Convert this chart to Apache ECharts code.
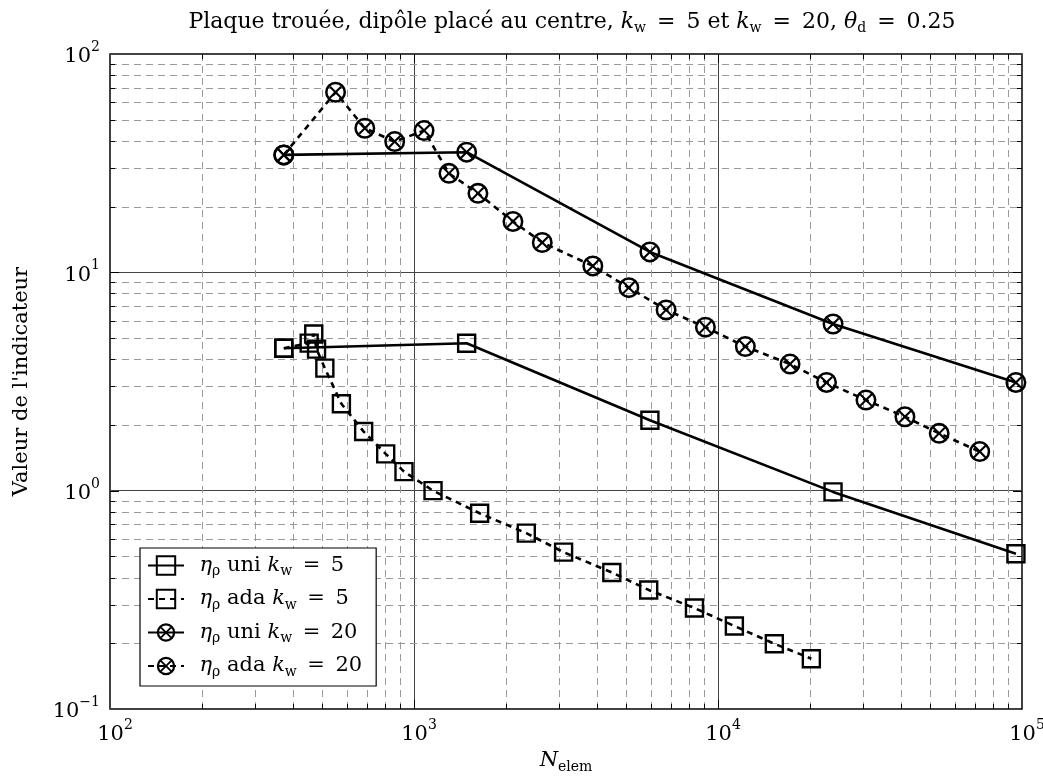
<!DOCTYPE html>
<html>
<head>
<meta charset="utf-8">
<script src="https://cdn.jsdelivr.net/npm/echarts@6/dist/echarts.min.js"></script>
<style>html,body{margin:0;padding:0;background:#fff;}#c{width:1043px;height:780px;}</style>
</head>
<body>
<div id="c"></div>
<script>
// ---- data ----
const uniX   = [373, 1490, 5970, 23900, 95500];
const uni5   = [4.49, 4.73, 2.10, 0.987, 0.514];
const uni20  = [34.5, 35.5, 12.4, 5.80, 3.13];
const ada5X  = [373, 452, 468, 478, 509, 577, 683, 807, 927, 1155, 1644, 2341, 3105, 4474, 5916, 8367, 11320, 15320, 20280];
const ada5   = [4.49, 4.74, 5.22, 4.45, 3.64, 2.50, 1.865, 1.474, 1.223, 1.0, 0.788, 0.639, 0.523, 0.422, 0.351, 0.290, 0.240, 0.199, 0.170];
const ada20X = [373, 552, 689, 864, 1079, 1303, 1623, 2116, 2642, 3875, 5089, 6750, 9090, 12300, 17260, 22750, 30670, 41200, 53400, 72600];
const ada20  = [34.5, 66.8, 45.7, 39.7, 44.6, 28.4, 23.0, 17.1, 13.7, 10.7, 8.51, 6.73, 5.61, 4.57, 3.80, 3.13, 2.60, 2.18, 1.83, 1.51];
const seriesNames = ['uni5', 'ada5', 'uni20', 'ada20'];
const EQ = '\u2002=\u2002';
const legendLabels = {
  uni5:  '\u2002{i|η}{s|ρ} uni {i|k}{s|w}' + EQ + '5',
  ada5:  '\u2002{i|η}{s|ρ} ada {i|k}{s|w}' + EQ + '5',
  uni20: '\u2002{i|η}{s|ρ} uni {i|k}{s|w}' + EQ + '20',
  ada20: '\u2002{i|η}{s|ρ} ada {i|k}{s|w}' + EQ + '20'
};
const titleText = 'Plaque trouée, dipôle placé au centre, {i|k}{s|w}' + EQ + '5 et {i|k}{s|w}' + EQ + '20, {i|θ}{s|d}' + EQ + '0.25';
const xMinor = [200,300,400,500,600,700,800,900,2000,3000,4000,5000,6000,7000,8000,9000,20000,30000,40000,50000,60000,70000,80000,90000];
const yMinor = [0.2,0.3,0.4,0.5,0.6,0.7,0.8,0.9,2,3,4,5,6,7,8,9,20,30,40,50,60,70,80,90];
const xMajor = [1000, 10000];
const yMajor = [1, 10];

const FONT = '"DejaVu Serif", "Liberation Serif", serif';
const zip = (xs, ys) => xs.map((x, i) => [x, ys[i]]);

// circle with cross symbol
const OTIMES = 'path://M20 10A10 10 0 1 1 0 10A10 10 0 1 1 20 10ZM17.6 10A7.6 7.6 0 1 0 2.4 10A7.6 7.6 0 1 0 17.6 10Z' +
  'M14.60 3.99L16.01 5.40L11.41 10L16.01 14.60L14.60 16.01L10 11.41L5.40 16.01L3.99 14.60L8.59 10L3.99 5.40L5.40 3.99L10 8.59Z';

const gridData = [];
xMinor.forEach(v => gridData.push([v, 1, 0]));
yMinor.forEach(v => gridData.push([1000, v, 1]));
xMajor.forEach(v => gridData.push([v, 1, 2]));
yMajor.forEach(v => gridData.push([1000, v, 3]));

function expLabel(v) {
  const e = Math.round(Math.log10(v));
  return '{b|10}{e|' + (e < 0 ? '−' + (-e) : e) + '}';
}
const labelRich = {
  b: { fontFamily: FONT, fontSize: 21, color: '#000', verticalAlign: 'bottom', lineHeight: 27 },
  e: { fontFamily: FONT, fontSize: 14, color: '#000', verticalAlign: 'top', lineHeight: 14 }
};

const chart = echarts.init(document.getElementById('c'), null, { renderer: 'canvas' });

const lineSeries = (name, data, dashed, symbol, size) => ({
  name, type: 'line', data, z: 5,
  symbol, symbolSize: size,
  showSymbol: true,
  lineStyle: { color: '#000', width: 2.6, type: dashed ? [6, 5] : 'solid' },
  itemStyle: symbol === 'rect'
    ? { color: 'rgba(0,0,0,0)', borderColor: '#000', borderWidth: 2.4 }
    : { color: '#000', borderWidth: 0 },
  emphasis: { disabled: true },
  animation: false
});

chart.setOption({
  animation: false,
  backgroundColor: '#fff',
  title: {
    text: titleText,
    left: 567, top: 4, textAlign: 'center',
    textStyle: {
      fontFamily: FONT, fontSize: 22, fontWeight: 'normal', color: '#000',
      rich: {
        i: { fontFamily: FONT, fontSize: 22, fontStyle: 'italic', color: '#000' },
        s: { fontFamily: FONT, fontSize: 14, color: '#000', padding: [12, 0, 0, 0] }
      }
    }
  },
  grid: { left: 110, right: 21, top: 54, bottom: 71, outerBoundsMode: 'none', containLabel: false, show: true, borderColor: '#000', borderWidth: 1.5, backgroundColor: 'rgba(0,0,0,0)' },
  legend: {
    data: seriesNames,
    orient: 'vertical',
    left: 140, top: 548,
    padding: [7, 14, 7, 7],
    itemGap: 10,
    itemWidth: 36, itemHeight: 23,
    backgroundColor: '#fff',
    borderColor: '#000', borderWidth: 1.2, borderRadius: 0,
    selectedMode: false,
    formatter: n => legendLabels[n],
    textStyle: {
      fontFamily: FONT, fontSize: 21, color: '#000',
      rich: {
        i: { fontFamily: FONT, fontSize: 21, fontStyle: 'italic', color: '#000' },
        s: { fontFamily: FONT, fontSize: 14, color: '#000', padding: [12, 0, 0, 0] }
      }
    }
  },
  xAxis: {
    type: 'log', logBase: 10, min: 100, max: 100000, interval: 1,
    name: '{i|N}{s|elem}', nameLocation: 'middle', nameGap: 39,
    nameTextStyle: {
      fontFamily: FONT, fontSize: 21, color: '#000',
      rich: {
        i: { fontFamily: FONT, fontSize: 21, fontStyle: 'italic', color: '#000' },
        s: { fontFamily: FONT, fontSize: 14, color: '#000', padding: [12, 0, 0, 0] }
      }
    },
    axisLine: { show: false },
    axisTick: { show: false },
    splitLine: { show: true, lineStyle: { color: '#444', width: 1 } },
    axisLabel: { formatter: expLabel, rich: labelRich, margin: 9, color: '#000', padding: [0, 0, 0, 10] }
  },
  yAxis: {
    type: 'log', logBase: 10, min: 0.1, max: 100, interval: 1,
    name: "Valeur de l'indicateur", nameLocation: 'middle', nameGap: 78, nameRotate: 90,
    nameTextStyle: { fontFamily: FONT, fontSize: 21, color: '#000' },
    axisLine: { show: false },
    axisTick: { show: false },
    splitLine: { show: true, lineStyle: { color: '#444', width: 1 } },
    axisLabel: { formatter: expLabel, rich: labelRich, margin: 10, color: '#000' }
  },
  series: [
    {
      type: 'custom', name: 'grid', z: 1, silent: true,
      coordinateSystem: 'cartesian2d',
      dimensions: ['x', 'y', 't'],
      encode: { x: 0, y: 1 },
      data: gridData,
      renderItem: function (params, api) {
        const cs = params.coordSys;
        const t = api.value(2);
        const x0 = cs.x, x1 = cs.x + cs.width, y0 = cs.y, y1 = cs.y + cs.height;
        const children = [];
        const dash = { stroke: '#9a9a9a', lineWidth: 1, lineDash: [7, 5] };
        const tk = { stroke: '#000', lineWidth: 1 };
        if (t === 0 || t === 2) {
          const p = Math.round(api.coord([api.value(0), 1])[0]) + 0.5;
          const L = t === 0 ? 5 : 9;
          if (t === 0) children.push({ type: 'line', shape: { x1: p, y1: y0, x2: p, y2: y1 }, style: dash });
          children.push({ type: 'line', shape: { x1: p, y1: y1, x2: p, y2: y1 - L }, style: tk });
          children.push({ type: 'line', shape: { x1: p, y1: y0, x2: p, y2: y0 + L }, style: tk });
        } else {
          const p = Math.round(api.coord([1000, api.value(1)])[1]) + 0.5;
          const L = t === 1 ? 5 : 9;
          if (t === 1) children.push({ type: 'line', shape: { x1: x0, y1: p, x2: x1, y2: p }, style: dash });
          children.push({ type: 'line', shape: { x1: x0, y1: p, x2: x0 + L, y2: p }, style: tk });
          children.push({ type: 'line', shape: { x1: x1, y1: p, x2: x1 - L, y2: p }, style: tk });
        }
        return { type: 'group', children };
      },
      animation: false
    },
    lineSeries('uni5', zip(uniX, uni5), false, 'rect', 17),
    lineSeries('ada5', zip(ada5X, ada5), true, 'rect', 17),
    lineSeries('uni20', zip(uniX, uni20), false, OTIMES, 21),
    lineSeries('ada20', zip(ada20X, ada20), true, OTIMES, 21)
  ]
});
</script>
</body>
</html>
